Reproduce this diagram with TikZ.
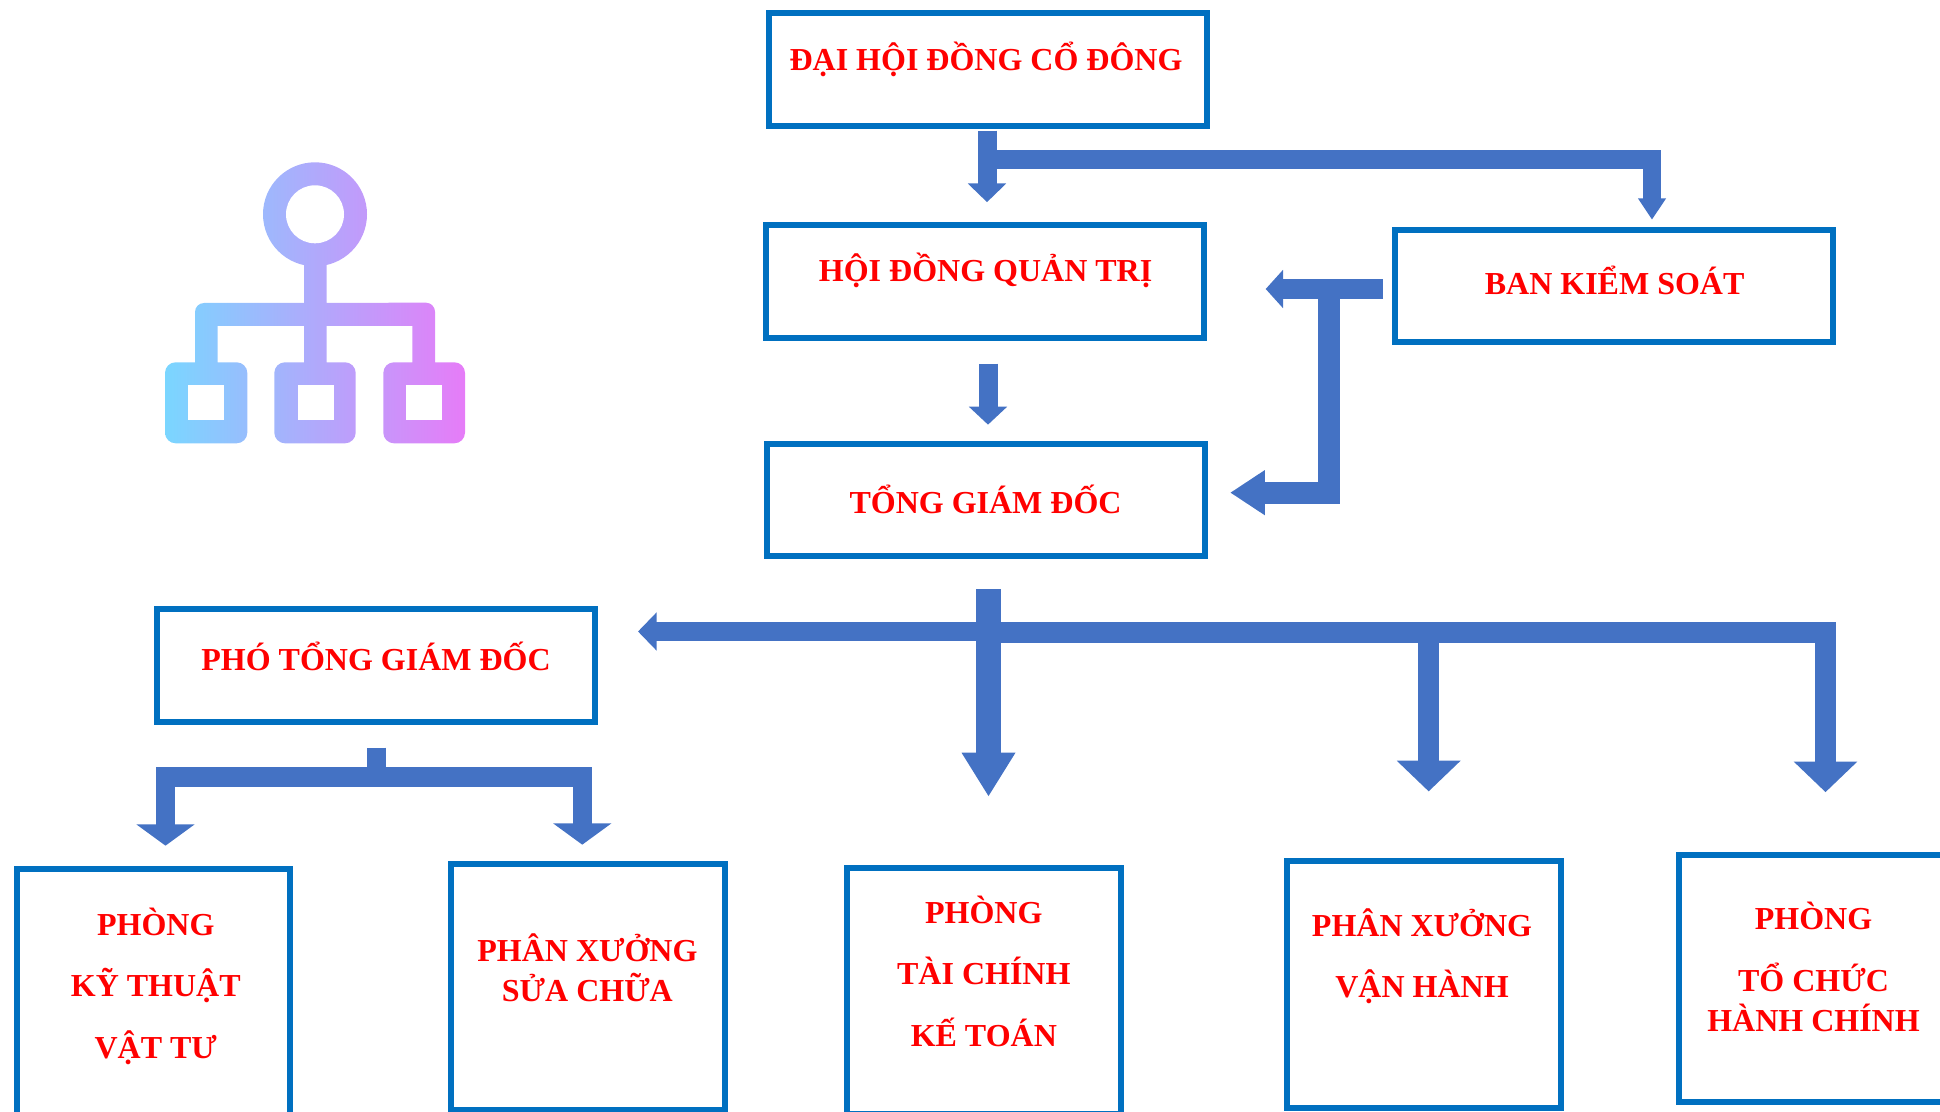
\documentclass[tikz,border=0pt]{standalone}
\usepackage{fontspec}
\setmainfont{Liberation Serif}
\usetikzlibrary{arrows.meta}
\definecolor{boxblue}{HTML}{0070C0}
\definecolor{flowblue}{HTML}{4472C4}
\definecolor{iconl}{HTML}{7AD6FF}
\definecolor{iconm}{HTML}{A3B2FA}
\definecolor{iconr}{HTML}{E67CF8}
\tikzset{
	boxbase/.style={draw=boxblue,line width=4.5pt,inner sep=0pt},
	widebox/.style={boxbase,minimum width=328.5pt,minimum height=84.5pt},
	tallbox/.style={boxbase,minimum width=205pt,minimum height=185pt},
	flow/.style n args={3}{draw=flowblue,line width=#1,-{Triangle[length=#2,width=#3]}}
}
\begin{document}
\begin{tikzpicture}[x=0.75pt,y=-0.75pt]
	\path[use as bounding box,clip] (0,0) rectangle (1940,1112);
	\begin{scope}
		\clip (315,214.3) circle (52)
			(326.7,260) rectangle (304,363)
			(195,363) -- (195,312) arc (180:270:9) -- (426,302.7) arc (270:360:9) -- (435,363) -- (412.3,363) -- (412.3,326) -- (217.7,326) -- (217.7,363) -- cycle
			[rounded corners=8] (247.3,362.3) rectangle (165,443.3)
			(355.7,362.3) rectangle (274.3,443.3)
			(465,362.3) rectangle (383.3,443.3);
		\shade[left color=iconl,middle color=iconm,right color=iconr] (165,160) rectangle (465,445);
	\end{scope}
	\fill[white] (315,214.3) circle (29);
	\foreach \holex in {188.3,297.7,406}
		\fill[white] (\holex,385.3) rectangle (\holex+35.8,420);
	\begin{scope}
		\node[widebox] (dhcd) at (987.5,69.7) {};
		\node[widebox] (hdqt) at (985,281.5) {};
		\node[widebox] (tgd) at (985.5,500) {};
		\node[widebox] (bks) at (1614,286) {};
		\node[widebox] (ptgd) at (376,665.5) {};
		\node[tallbox] (kythuat) at (153.5,992) {};
		\node[tallbox] (suachua) at (588,987) {};
		\node[tallbox] (taichinh) at (984,991) {};
		\node[tallbox] (vanhanh) at (1424,984.4) {};
		\node[tallbox] (tochuc) at (1815.5,978.5) {};
	\end{scope}
	\begin{scope}[every node/.style={text=red,align=center,anchor=base,font=\bfseries\fontsize{24pt}{30pt}\selectfont}]
		\node (dhcdt) at (986,70.4) {ĐẠI HỘI ĐỒNG CỔ ĐÔNG};
		\node (hdqtt) at (985.6,281.7) {HỘI ĐỒNG QUẢN TRỊ};
		\node (tgdt) at (985.5,513.6) {TỔNG GIÁM ĐỐC};
		\node (bkst) at (1614.6,294.7) {BAN KIỂM SOÁT};
		\node (ptgdt) at (376,670) {PHÓ TỔNG GIÁM ĐỐC};
		\node (kythuatt) at (155.8,1058) {PHÒNG\\[16pt]KỸ THUẬT\\[16pt]VẬT TƯ};
		\node (suachuat) at (587.4,1001.9) {PHÂN XƯỞNG\\SỬA CHỮA};
		\node (taichinht) at (983.8,1046) {PHÒNG\\[16pt]TÀI CHÍNH\\[16pt]KẾ TOÁN};
		\node (vanhanht) at (1422,997.7) {PHÂN XƯỞNG\\[16pt]VẬN HÀNH};
		\node (tochuct) at (1813.5,1031) {PHÒNG\\[16pt]TỔ CHỨC\\HÀNH CHÍNH};
	\end{scope}
	\coordinate (jdhcd) at (987,159.2);
	\coordinate (jhd) at (988,364);
	\coordinate (jbks) at (1329,289);
	\coordinate (jtgd) at (988.5,632.8);
	\coordinate (jpho) at (988.5,631.5);
	\coordinate (jptgd) at (376,787);
	\coordinate (jbar) at (376,777);
	\draw[flow={14.25pt}{14pt}{28pt},shorten <=1.2pt,shorten >=15pt] (dhcd.south -| jdhcd) -- (hdqt.north -| jdhcd);
	\draw[flow={14pt}{16pt}{20pt},shorten >=5.25pt] (jdhcd) -| ([xshift=28.5pt]bks.north);
	\draw[flow={14.25pt}{13.5pt}{28pt},shorten <=17pt,shorten >=12pt] (hdqt.south -| jhd) -- (tgd.north -| jhd);
	\draw[flow={14.5pt}{13pt}{28pt},shorten <=6.75pt,shorten >=44pt] (bks.west |- jbks) -- (hdqt.east |- jbks);
	\draw[flow={16.5pt}{26pt}{32pt},shorten >=17pt] (jbks) |- ([yshift=5.5pt]tgd.east);
	\draw[flow={18.75pt}{33pt}{38pt},shorten <=22.5pt,shorten >=51pt] (tgd.south -| jtgd) -- (taichinh.north -| jtgd);
	\draw[flow={14.25pt}{14pt}{28pt},shorten >=30pt] (jpho) -- (ptgd.east |- jpho);
	\draw[flow={15.75pt}{23pt}{46.5pt},shorten >=50pt] (jtgd) -| ([xshift=3.5pt]vanhanh.north);
	\draw[flow={15.75pt}{23pt}{46.5pt},shorten >=45pt] (jtgd) -| ([xshift=7.5pt]tochuc.north);
	\draw[draw=flowblue,line width=14.25pt,shorten <=17pt] (ptgd.south) -- (jptgd);
	\draw[flow={14.5pt}{16pt}{43pt},shorten >=15pt] (jbar) -| ([xshift=9pt]kythuat.north);
	\draw[flow={14.5pt}{16pt}{43pt},shorten >=12pt] (jbar) -| ([xshift=-4.3pt]suachua.north);
\end{tikzpicture}
\end{document}
